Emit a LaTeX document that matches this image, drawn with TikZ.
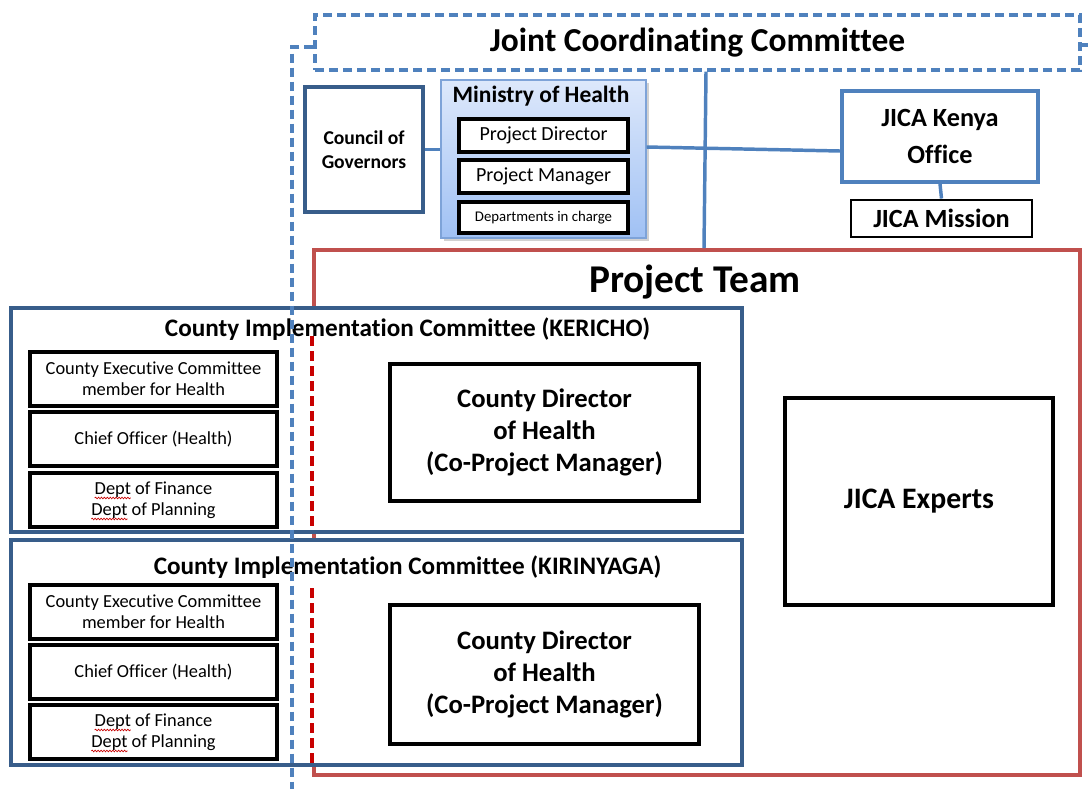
\documentclass[tikz,border=0pt]{standalone}
\usepackage{fontspec}
\setmainfont{Carlito}[Ligatures=NoCommon]
\usetikzlibrary{calc,decorations.pathmorphing}

\definecolor{jccblue}{RGB}{79,129,189}
\definecolor{cicblue}{RGB}{56,93,138}
\definecolor{ptred}{RGB}{192,80,77}
\definecolor{dashred}{RGB}{200,0,0}
\definecolor{mhtop}{RGB}{221,232,251}
\definecolor{mhbot}{RGB}{160,193,244}
\definecolor{mhedge}{RGB}{126,163,216}

% word with a red wavy underline
\newsavebox\spellbox
\newcommand\spellword[1]{\sbox\spellbox{#1}\tikz[overlay,baseline=0pt]\draw[dashred,line width=0.5pt,solid,decorate,decoration={snake,amplitude=0.6pt,segment length=2.2pt}] (0pt,-2.8pt) -- (\wd\spellbox,-2.8pt);\usebox\spellbox}

\tikzset{
  box/.style={draw, rectangle, inner sep=0pt, align=center},
  jccdash/.style={draw=jccblue, line width=2.6pt, dash pattern=on 7pt off 3.5pt},
  reddash/.style={draw=dashred, line width=2.8pt, dash pattern=on 7.5pt off 3.75pt},
  link/.style={draw=jccblue, line width=2.6pt},
  mhrole/.style={box, line width=2.6pt, fill=white, minimum width=126.75pt, minimum height=24.75pt, font=\fontsize{15}{18}\selectfont},
  rolebox/.style={box, line width=2.6pt, fill=white, minimum width=185.25pt, minimum height=40.5pt, font=\fontsize{13.8}{15.75}\selectfont},
  cicbox/.style={box, draw=cicblue, line width=2.4pt, fill=white, minimum width=548.25pt},
  cictitle/.style={inner sep=0pt, font=\bfseries\fontsize{18.9}{22}\selectfont},
  cdhbox/.style={box, line width=2.6pt, fill=white, minimum width=231.75pt, font=\bfseries\fontsize{20}{24}\selectfont},
}

\begin{document}
\begin{tikzpicture}[x=0.75pt,y=-0.75pt]
\useasboundingbox (0,0) rectangle (1088,789);

% Joint Coordinating Committee
\node[box, jccdash, minimum width=573.75pt, minimum height=41.25pt,
      font=\bfseries\fontsize{25.1}{29}\selectfont] (jcc) at (697.5,42.5) {Joint Coordinating Committee};

% Council of Governors
\node[box, draw=cicblue, line width=2.6pt, minimum width=88.5pt, minimum height=93.75pt,
      font=\bfseries\fontsize{14.7}{18}\selectfont] (cog) at (364,149.5) {Council of\\Governors};

% Ministry of Health, with a faint drop shadow
\fill[black!18] (444,83) rectangle (649,241);
\node[box, draw=mhedge, line width=0.9pt, top color=mhtop, bottom color=mhbot,
      minimum width=153.75pt, minimum height=118.5pt] (mh) at (543.5,159) {};
\node[inner sep=0pt, font=\bfseries\fontsize{17.6}{20}\selectfont] (mhtitle) at (541,96) {Ministry of Health};
\node[mhrole] (pd) at (543.5,135.5) {Project Director};
\node[mhrole] (pm) at (543.5,176.5) {Project Manager};
\node[mhrole, minimum height=23.25pt, font=\fontsize{11.1}{13}\selectfont] (dic) at (543.5,217.5) {Departments in charge};

% JICA side
\node[box, draw=jccblue, line width=3pt, minimum width=147pt, minimum height=68.25pt,
      font=\bfseries\fontsize{19.7}{27.75}\selectfont] (jko) at (940,136.5) {JICA Kenya\\Office};
\node[box, line width=2.2pt, minimum width=135.75pt, minimum height=27.75pt,
      font=\bfseries\fontsize{19.7}{23}\selectfont] (jm) at (941.5,218.5) {JICA Mission};

% Project Team
\node[box, draw=ptred, line width=2.8pt, minimum width=574.5pt, minimum height=393.75pt] (pt) at (697,512.5) {};
\node[inner sep=0pt, font=\bfseries\fontsize{29.5}{34}\selectfont] (pttitle) at (695,282) {Project Team};

% County Implementation Committee (KERICHO)
\node[cicbox, minimum height=168pt] (cick) at (376.5,420) {};
\node[cictitle] (cicktitle) at (407.5,329) {County Implementation Committee (KERICHO)};
\node[rolebox] (cekk) at (153.5,379) {County Executive Committee\\member for Health};
\node[rolebox] (cofk) at (153.5,439) {Chief Officer (Health)};
\node[rolebox] (dfpk) at (153.5,500) {\spellword{Dept} of Finance\\\spellword{Dept} of Planning};
\node[cdhbox, minimum height=102.75pt] (cdhk) at (544.5,432.5) {County Director\\of Health\\(Co-Project Manager)};

% County Implementation Committee (KIRINYAGA)
\node[cicbox, minimum height=168.75pt] (cicy) at (376.5,652.5) {};
\node[cictitle] (cicytitle) at (407.5,567) {County Implementation Committee (KIRINYAGA)};
\node[rolebox] (ceky) at (153.5,612) {County Executive Committee\\member for Health};
\node[rolebox] (cofy) at (153.5,672) {Chief Officer (Health)};
\node[rolebox] (dfpy) at (153.5,732) {\spellword{Dept} of Finance\\\spellword{Dept} of Planning};
\node[cdhbox, minimum height=104.25pt] (cdhy) at (544.5,674.5) {County Director\\of Health\\(Co-Project Manager)};

% JICA Experts
\node[box, line width=2.6pt, minimum width=201pt, minimum height=155.25pt,
      font=\bfseries\fontsize{22.3}{26}\selectfont] (jex) at (919,501.5) {JICA Experts};

% connectors
\draw[link] (cog.east) -- (cog.east -| mh.west);
\draw[link] ($(mh.east)+(0,-12)$) -- ($(jko.west)+(0,14.5)$);
\draw[link] ($(jcc.south)+(8.5,0)$) -- ($(pt.north)+(7,0)$);
\draw[link] (jko.south) -- (jm.north);

% Project Team edge inside the county committees
\draw[reddash] ($(cick.north -| pt.west)+(0,30)$) -- ($(cick.south -| pt.west)+(0,-5)$);
\draw[reddash] ($(cicy.north -| pt.west)+(0,50)$) -- ($(cicy.south -| pt.west)+(0,-3)$);

% Joint Coordinating Committee boundary
\coordinate (jccfoot) at (292,789);
\draw[jccdash] ($(jcc.west)+(0,4.5)$) -| (jccfoot);
\draw[jccdash] ($(jcc.east)+(0,2.5)$) -- ++(12,0);
\end{tikzpicture}
\end{document}
